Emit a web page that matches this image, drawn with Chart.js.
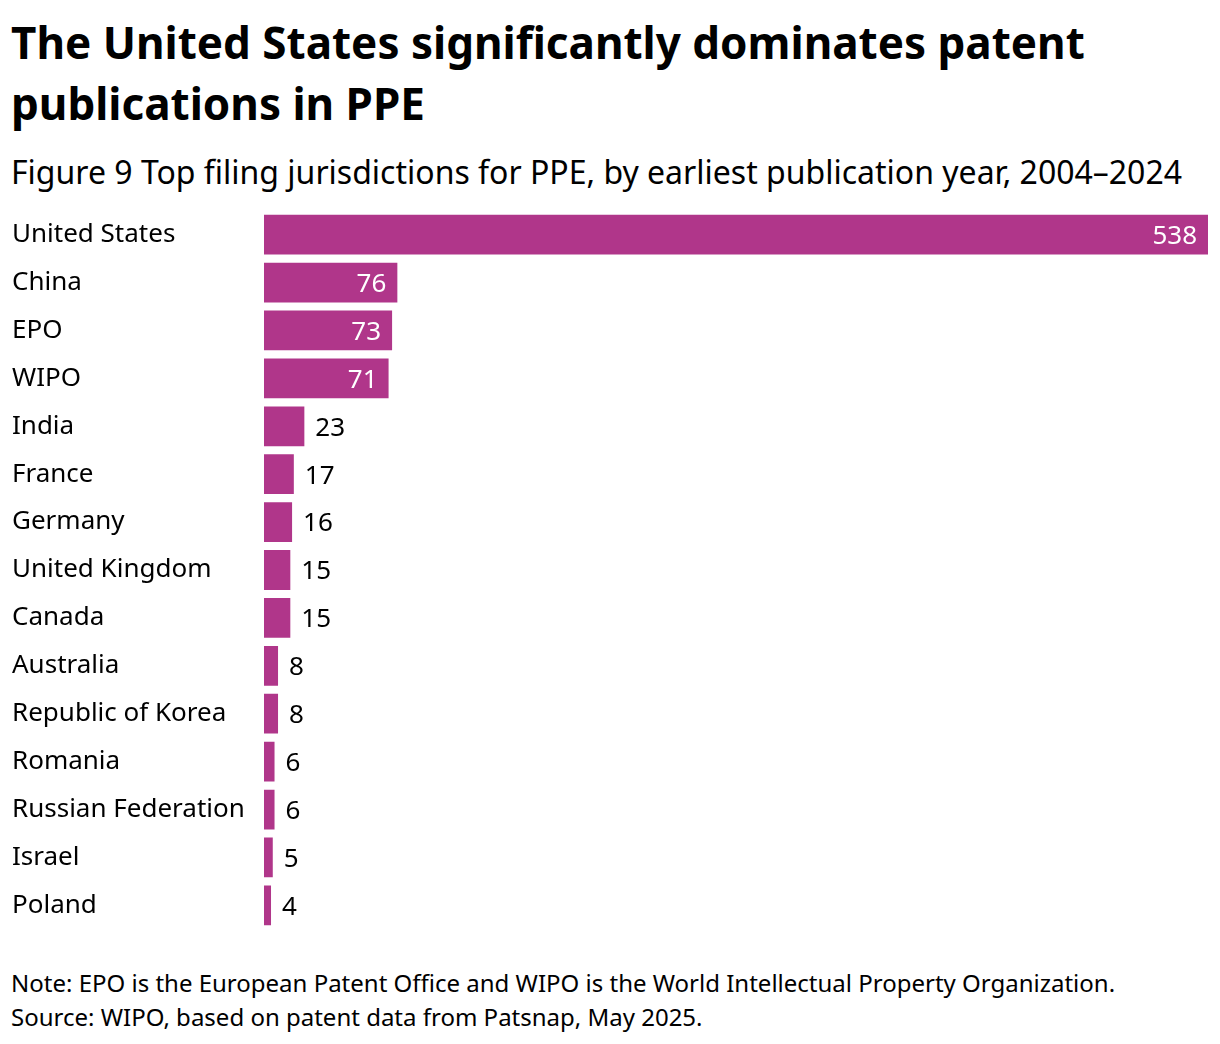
<!DOCTYPE html>
<html>
<head>
<meta charset="utf-8">
<script src="https://cdn.jsdelivr.net/npm/chart.js@4/dist/chart.umd.min.js"></script>
<style>
  body { margin: 0; background: #fff; font-family: "Noto Sans", sans-serif; color: #000; }
  #wrap { position: relative; width: 1220px; height: 1044px; }
  h1 { position: absolute; left: 11px; top: 12px; margin: 0; font-size: 44px; line-height: 61px; font-weight: 700; width: 1200px; }
  #sub { position: absolute; left: 11px; top: 152px; font-size: 32px; line-height: 40px; }
  #chartBox { position: absolute; left: 12px; top: 210px; width: 1196px; height: 720px; }
  #note { position: absolute; left: 11px; top: 966px; font-size: 24px; line-height: 34px; }
</style>
</head>
<body>
<div id="wrap">
  <h1>The United States significantly dominates patent publications in PPE</h1>
  <div id="sub">Figure 9 Top filing jurisdictions for PPE, by earliest publication year, 2004–2024</div>
  <div id="chartBox"><canvas id="grafico"></canvas></div>
  <div id="note">Note: EPO is the European Patent Office and WIPO is the World Intellectual Property Organization.<br>Source: WIPO, based on patent data from Patsnap, May 2025.</div>
</div>
<script>
var jurisdicoes = ['United States', 'China', 'EPO', 'WIPO', 'India', 'France', 'Germany',
  'United Kingdom', 'Canada', 'Australia', 'Republic of Korea', 'Romania',
  'Russian Federation', 'Israel', 'Poland'];
var publicacoes = [538, 76, 73, 71, 23, 17, 16, 15, 15, 8, 8, 6, 6, 5, 4];

// rotulos de valor: dentro da barra (branco) quando cabe, fora quando nao
var rotulos = {
  id: 'rotulos',
  afterDatasetsDraw: function(chart) {
    var ctx = chart.ctx;
    var meta = chart.getDatasetMeta(0);
    ctx.save();
    ctx.font = '26px "Noto Sans"';
    ctx.textBaseline = 'middle';
    meta.data.forEach(function(bar, i) {
      var v = publicacoes[i];
      var y = bar.y + 2;
      if (v > 50) {
        ctx.fillStyle = '#fff';
        ctx.textAlign = 'right';
        ctx.fillText(v, bar.x - 11, y);
      } else {
        ctx.fillStyle = '#000';
        ctx.textAlign = 'left';
        ctx.fillText(v, bar.x + 11, y);
      }
    });
    ctx.restore();
  }
};

new Chart(document.getElementById('grafico').getContext('2d'), {
  type: 'bar',
  data: {
    labels: jurisdicoes,
    datasets: [{
      data: publicacoes,
      backgroundColor: '#b0368a',
      barPercentage: 0.83,
      categoryPercentage: 1
    }]
  },
  options: {
    indexAxis: 'y',
    responsive: true,
    maintainAspectRatio: false,
    animation: false,
    devicePixelRatio: 1,
    layout: { padding: 0 },
    plugins: { legend: { display: false }, tooltip: { enabled: false } },
    scales: {
      x: { display: false, min: 0, max: 538 },
      y: {
        grid: { display: false },
        border: { display: false },
        afterFit: function(axis) { axis.width = 252; },
        ticks: {
          crossAlign: 'far',
          padding: 0,
          color: '#000',
          font: { family: 'Noto Sans', size: 26, lineHeight: 0.05 }
        }
      }
    }
  },
  plugins: [rotulos]
});
</script>
</body>
</html>
